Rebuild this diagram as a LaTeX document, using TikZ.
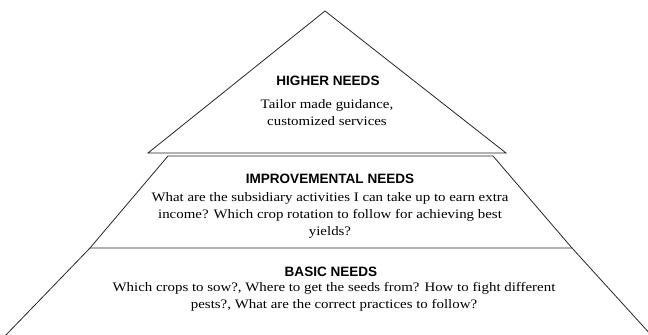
\documentclass[tikz,border=0pt]{standalone}
\usepackage{fontspec}
\setmainfont[FakeStretch=1.15]{Liberation Serif}
\newfontfamily\headfont{Liberation Sans}
% centred lines whose first baseline is the baseline of the box
\newcommand{\stacklines}[1]{\begin{tabular}[t]{@{}c@{}}#1\end{tabular}}
\begin{document}
\begin{tikzpicture}[x=1bp,y=-1bp,
  edge/.style={draw=black!85,line width=0.8bp,line join=miter},
  title/.style={font=\headfont\bfseries\fontsize{13.6}{15}\selectfont,anchor=base,inner sep=0pt},
  body/.style={font=\fontsize{13}{17.5}\selectfont,anchor=base,inner sep=0pt}]
\useasboundingbox (0,0) rectangle (648,334);
\clip (0,0) rectangle (648,334);

% corner points of the three levels
\coordinate (apex) at (325,11);
\coordinate (hl) at (148,153);
\coordinate (hr) at (506,153);
\coordinate (ml) at (168,156);
\coordinate (mr) at (493,156);
\coordinate (bl) at (90,248);
\coordinate (br) at (572,248);
\coordinate (fl) at (5,336);
\coordinate (fr) at (652,336);

% levels
\draw[edge] (hl) -- (apex) -- (hr) -- cycle;
\draw[edge] (bl) -- (ml) -- (mr) -- (br);
\draw[edge] (fl) -- (bl) -- (br) -- (fr);

% labels
\node[title] (hiT) at (328,85) {HIGHER NEEDS};
\node[body] (hiB) at (327,108) {\stacklines{Tailor made guidance,\\customized services}};

\node[title] (imT) at (330,183) {IMPROVEMENTAL NEEDS};
\node[body] (imB) at (330,201) {\stacklines{What are the subsidiary activities I can take up to earn extra\\income? Which crop rotation to follow for achieving best\\yields?}};

\node[title] (baT) at (331,276) {BASIC NEEDS};
\node[body] (baB) at (334,291) {\stacklines{Which crops to sow?, Where to get the seeds from? How to fight different\\pests?, What are the correct practices to follow?}};
\end{tikzpicture}
\end{document}
